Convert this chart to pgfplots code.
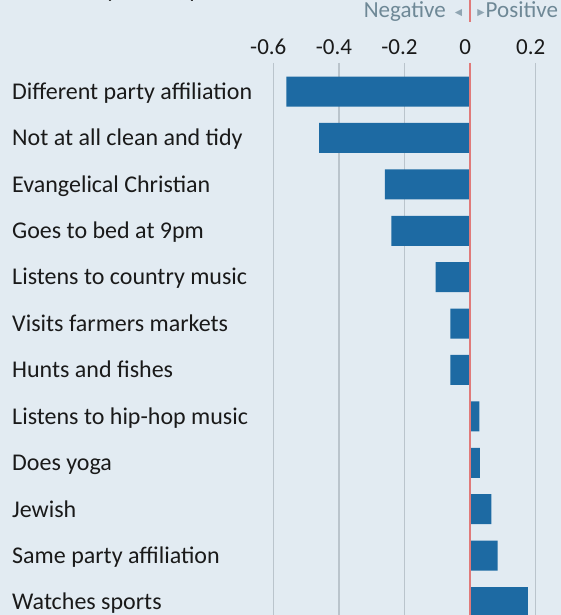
\documentclass[border=0pt]{standalone}
\usepackage{fontspec}
\setmainfont{Carlito}
\newfontfamily\dejavu{DejaVu Sans}
\usepackage{pgfplots}
\pgfplotsset{compat=1.18}

\definecolor{bg}{HTML}{E2EBF2}
\definecolor{barblue}{HTML}{1D6AA3}
\definecolor{gridc}{HTML}{BAC4CC}
\definecolor{zeroc}{HTML}{E07A7A}
\definecolor{legc}{HTML}{6E8896}
\definecolor{tric}{HTML}{8FA5B2}
\definecolor{txt}{HTML}{1A1A1A}

% effect on probability, points (rows top to bottom)
\pgfplotstableread{
idx val
0  -0.56
1  -0.46
2  -0.26
3  -0.24
4  -0.105
5  -0.06
6  -0.06
7   0.028
8   0.030
9   0.065
10  0.084
11  0.176
}\effects

\newcommand\chartfont{\fontsize{23}{27}\selectfont}
\newcommand\labelfont{\fontsize{24}{28}\selectfont}

\begin{document}
\begin{tikzpicture}
\path[use as bounding box, fill=bg] (0pt,0pt) rectangle (561pt,615pt);
\clip (0pt,0pt) rectangle (561pt,615pt);

% cut-off subtitle and the negative/positive key
\node[anchor=base west, inner sep=0pt, text=txt, font=\labelfont] at (12pt,617pt) {Probability effect, points};
\node[anchor=base east, inner sep=0pt, text=legc, font=\chartfont] at (446pt,597pt) {Negative};
\node[anchor=center, inner sep=0pt, text=tric, font=\dejavu\fontsize{9.5}{11}\selectfont] at (458.5pt,601.5pt) {◀};
\node[anchor=center, inner sep=0pt, text=tric, font=\dejavu\fontsize{9.5}{11}\selectfont] at (481pt,601.5pt) {▶};
\node[anchor=base west, inner sep=0pt, text=legc, font=\chartfont] at (485.5pt,597pt) {Positive};
\draw[zeroc, line width=1.2pt] (470pt,593pt) -- (470pt,615pt);

\begin{axis}[
  ,at={(273.3pt,0pt)}, anchor=south west
  ,scale only axis
  ,width=262.4pt, height=552.2pt
  ,xmin=-0.6, xmax=0.2
  ,ymin=-0.62, ymax=11.28
  ,y dir=reverse
  ,axis line style={draw=none}
  ,tick style={draw=none}
  ,xtick={-0.6,-0.4,-0.2,0,0.2}
  ,xticklabels={-0.6,-0.4,-0.2,0,0.2}
  ,xticklabel pos=upper
  ,xmajorgrids
  ,major grid style={gridc, line width=1.2pt}
  ,xticklabel style={anchor=base, inner sep=0pt, yshift=8pt, xshift=-5pt, font=\chartfont, text=txt}
  ,ytick={0,...,11}
  ,yticklabels={Different party affiliation, Not at all clean and tidy, Evangelical Christian,
     Goes to bed at 9pm, Listens to country music, Visits farmers markets, Hunts and fishes,
     Listens to hip-hop music, Does yoga, Jewish, Same party affiliation, Watches sports}
  ,yticklabel style={anchor=base west, inner sep=0pt, xshift=-261.3pt, yshift=-7.8pt, font=\labelfont, text=txt}
  ]
  \addplot[xbar, bar width=30pt, fill=barblue, draw=none] table[x=val, y=idx] {\effects};
  \draw[zeroc, line width=1.2pt] (axis cs:0,-0.62) -- (axis cs:0,11.28);
\end{axis}
\end{tikzpicture}
\end{document}
